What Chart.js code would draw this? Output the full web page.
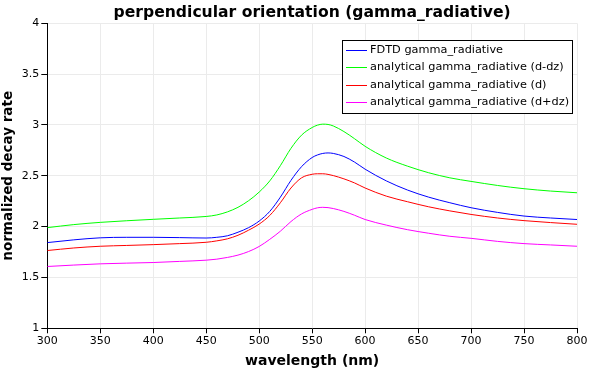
<!DOCTYPE html>
<html>
<head>
<meta charset="utf-8">
<script src="https://cdn.jsdelivr.net/npm/chart.js@4"></script>
<style>
html,body{margin:0;padding:0;background:#fff;}
#wrap{width:596px;height:371px;position:relative;}
</style>
</head>
<body>
<div id="wrap"><canvas id="c" width="596" height="371"></canvas></div>
<script>
const wavelength = [300,325,350,375,400,425,450,460,470,480,490,500,510,520,530,540,550,555,560,565,570,580,590,600,620,640,660,680,700,725,750,775,800];
const fdtd      = [1.843,1.870,1.890,1.895,1.895,1.892,1.888,1.895,1.910,1.945,1.990,2.055,2.150,2.290,2.455,2.590,2.680,2.705,2.720,2.725,2.720,2.690,2.635,2.565,2.450,2.360,2.290,2.235,2.186,2.140,2.104,2.085,2.070];
const dMinusDz  = [1.990,2.020,2.042,2.058,2.072,2.085,2.100,2.115,2.145,2.190,2.255,2.340,2.450,2.600,2.770,2.900,2.975,2.998,3.008,3.005,2.990,2.935,2.865,2.790,2.675,2.595,2.530,2.480,2.445,2.405,2.373,2.350,2.333];
const dOnly     = [1.765,1.790,1.807,1.815,1.823,1.833,1.846,1.860,1.880,1.915,1.965,2.025,2.110,2.235,2.380,2.480,2.515,2.520,2.520,2.514,2.502,2.470,2.430,2.380,2.300,2.245,2.195,2.155,2.120,2.085,2.059,2.040,2.023];
const dPlusDz   = [1.608,1.622,1.634,1.641,1.647,1.658,1.670,1.680,1.697,1.720,1.755,1.805,1.875,1.955,2.050,2.125,2.170,2.185,2.190,2.187,2.178,2.150,2.112,2.070,2.015,1.970,1.935,1.905,1.885,1.855,1.833,1.820,1.807];
const seriesLabels = ["FDTD gamma_radiative","analytical gamma_radiative (d-dz)","analytical gamma_radiative (d)","analytical gamma_radiative (d+dz)"];
const seriesColors = ["#0000ff","#00ff00","#ff0000","#ff00ff"];
const xTicks = [300,350,400,450,500,550,600,650,700,750,800];
const yTicks = [1,1.5,2,2.5,3,3.5,4];
const chartTitle = 'perpendicular orientation (gamma_radiative)';

const FONT = "'DejaVu Sans', sans-serif";
const allSeries = [fdtd, dMinusDz, dOnly, dPlusDz];

const titleAndLegend = {
  id: 'titleAndLegend',
  afterDraw(chart) {
    const ctx = chart.ctx;
    const ca = chart.chartArea;
    ctx.save();
    // title, centred over the plot area
    ctx.fillStyle = '#000';
    ctx.font = "bold 15.6px " + FONT;
    ctx.textAlign = 'center';
    ctx.textBaseline = 'alphabetic';
    ctx.fillText(chartTitle, (ca.left + ca.right) / 2, 17);
    // legend box
    const x0 = 342, y0 = 40, w = 230, h = 73;
    ctx.fillStyle = '#fff';
    ctx.fillRect(x0, y0, w, h);
    ctx.strokeStyle = '#000';
    ctx.lineWidth = 1;
    ctx.strokeRect(x0 + 0.5, y0 + 0.5, w, h);
    ctx.font = "11.3px " + FONT;
    ctx.textAlign = 'left';
    ctx.textBaseline = 'middle';
    chart.data.datasets.forEach((ds, i) => {
      const yy = y0 + 10 + i * 17.3;
      ctx.strokeStyle = ds.borderColor;
      ctx.beginPath();
      ctx.moveTo(x0 + 4, Math.round(yy) + 0.5);
      ctx.lineTo(x0 + 25, Math.round(yy) + 0.5);
      ctx.stroke();
      ctx.fillStyle = '#000';
      ctx.fillText(ds.label, x0 + 28, yy);
    });
    ctx.restore();
  }
};

new Chart(document.getElementById('c'), {
  type: 'line',
  data: {
    datasets: allSeries.map((s, i) => ({
      label: seriesLabels[i],
      data: wavelength.map((x, j) => ({x: x, y: s[j]})),
      borderColor: seriesColors[i],
      backgroundColor: seriesColors[i],
      borderWidth: 1,
      pointRadius: 0,
      cubicInterpolationMode: 'monotone',
      fill: false
    }))
  },
  options: {
    responsive: false,
    animation: false,
    layout: {padding: {left: 0, right: 19, top: 23.3, bottom: 0}},
    plugins: {
      legend: {display: false},
      tooltip: {enabled: false},
      title: {display: false}
    },
    scales: {
      x: {
        type: 'linear',
        min: 300, max: 800,
        afterBuildTicks: (s) => { s.ticks = xTicks.map(v => ({value: v})); },
        afterFit: (s) => { s.height = 42.7; },
        grid: {color: '#ebebeb', tickColor: '#000', tickLength: 5, drawTicks: true},
        border: {color: '#000', width: 1},
        ticks: {color: '#000', font: {family: FONT, size: 11}, padding: 1, maxRotation: 0, autoSkip: false, callback: (v) => String(v)},
        title: {display: true, text: 'wavelength (nm)', color: '#000', font: {family: FONT, size: 14, weight: 'bold'}, padding: {top: 0, bottom: 1}}
      },
      y: {
        type: 'linear',
        min: 1, max: 4,
        afterBuildTicks: (s) => { s.ticks = yTicks.map(v => ({value: v})); },
        afterFit: (s) => { s.width = 47.3; },
        grid: {color: '#ebebeb', tickColor: '#000', tickLength: 6, drawTicks: true},
        border: {color: '#000', width: 1},
        ticks: {color: '#000', font: {family: FONT, size: 11}, padding: 2, autoSkip: false, callback: (v) => String(v)},
        title: {display: true, text: 'normalized decay rate', color: '#000', font: {family: FONT, size: 13.5, weight: 'bold'}, padding: {top: 0, bottom: 0}}
      }
    }
  },
  plugins: [titleAndLegend]
});
</script>
</body>
</html>
